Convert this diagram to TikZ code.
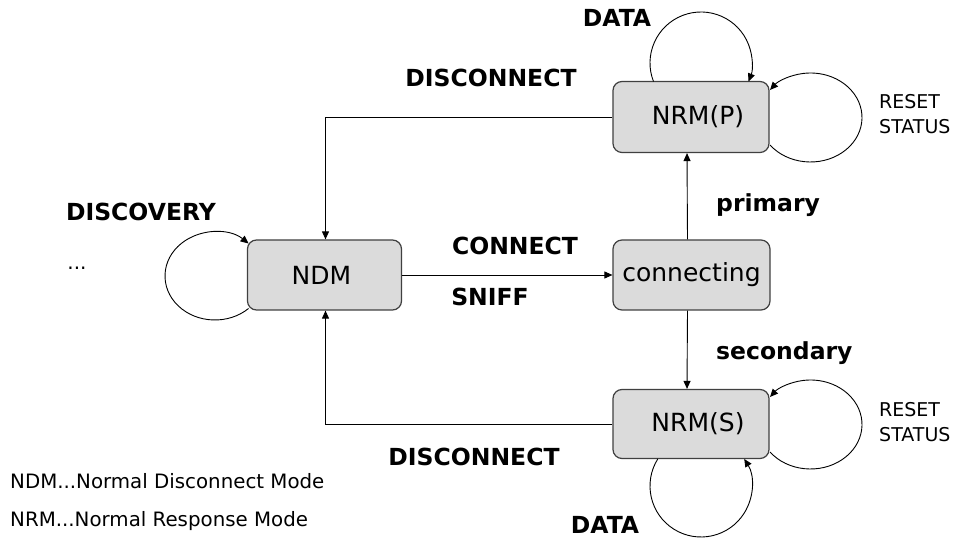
\documentclass[tikz,border=0pt]{standalone}
\usepackage{fontspec}
\setmainfont{DejaVu Sans}
\usetikzlibrary{arrows.meta,calc}
\begin{document}
\begin{tikzpicture}[x=1pt,y=1pt,
  state/.style={draw=black!75,line width=1.2pt,fill=black!14,rounded corners=9pt,minimum height=70pt,inner sep=0pt,font=\fontsize{25}{30}\selectfont},
  arr/.style={line width=0.9pt,-{Triangle[length=8pt,width=7pt]}},
  lbl/.style={font=\bfseries\fontsize{23.5}{28}\selectfont,inner sep=0pt},
  small/.style={font=\fontsize{19}{25}\selectfont,inner sep=0pt,align=left,anchor=west},
  legend/.style={font=\fontsize{19.8}{23}\selectfont,inner sep=0pt,anchor=west}]
\useasboundingbox (0,0) rectangle (962,538);
% states
\node[state,minimum width=154pt] (NDM) at (324.5,263) {NDM\hspace*{6pt}};
\node[state,minimum width=157pt] (conn) at (691.5,263) {connecting};
\node[state,minimum width=156pt,minimum height=71pt] (NRMP) at (691,421) {\hspace*{14pt}NRM(P)};
\node[state,minimum width=156pt,minimum height=69pt] (NRMS) at (691,114) {\hspace*{14pt}NRM(S)};
% connectors
\draw[arr] (NDM.east) -- (conn.west);
\draw[arr] ([xshift=-4pt]conn.north) -- ([xshift=-4pt]NRMP.south);
\draw[arr] ([xshift=-4pt]conn.south) -- ([xshift=-4pt]NRMS.north);
\draw[arr] (NRMP.west) -| ([xshift=1pt]NDM.north);
\draw[arr] (NRMS.west) -| ([xshift=1pt]NDM.south);
% self loops
\coordinate (c1) at ($(NDM.center)+(-109.6,-1)$);
\draw[arr] ($(c1)+(-47.6:49.9 and 44)$) arc[start angle=-47.6,end angle=-312.4,x radius=49.9,y radius=44];
\coordinate (c2) at ($(NRMP.center)+(10,54)$);
\draw[arr] ($(c2)+(201.3:51)$) arc[start angle=201.3,end angle=-21.3,radius=51];
\coordinate (c3) at ($(NRMP.center)+(119.5,-0.5)$);
\draw[arr] ($(c3)+(218.2:51.5 and 44.5)$) arc[start angle=218.2,end angle=501.8,x radius=51.5,y radius=44.5];
\coordinate (c4) at ($(NRMS.center)+(119.5,-0.5)$);
\draw[arr] ($(c4)+(218.2:51.5 and 44.5)$) arc[start angle=218.2,end angle=501.8,x radius=51.5,y radius=44.5];
\coordinate (c5) at ($(NRMS.center)+(10,-62)$);
\draw[arr] ($(c5)+(147.9:51)$) arc[start angle=147.9,end angle=392.1,radius=51];
% labels
\node[lbl] (ldata1) at (617,520) {DATA};
\node[lbl] (ldisc1) at (491,460) {DISCONNECT};
\node[lbl] (ldisco) at (141,326) {DISCOVERY};
\node[font=\fontsize{20}{24}\selectfont,inner sep=0pt] (ldots) at (77,270) {...};
\node[lbl] (lconn) at (515,292) {CONNECT};
\node[lbl] (lsniff) at (490,241) {SNIFF};
\node[lbl,anchor=base west] (lprim) at (716,326) {primary};
\node[lbl,anchor=base west] (lsec) at (716,178) {secondary};
\node[lbl] (ldisc2) at (474,81) {DISCONNECT};
\node[lbl] (ldata2) at (605,13) {DATA};
\node[small] (lrs1) at (879,424) {RESET\\STATUS};
\node[small] (lrs2) at (879,115.5) {RESET\\STATUS};
\node[legend] (leg1) at (10,56.5) {NDM...Normal Disconnect Mode};
\node[legend] (leg2) at (10,17) {NRM...Normal Response Mode};
\end{tikzpicture}
\end{document}
